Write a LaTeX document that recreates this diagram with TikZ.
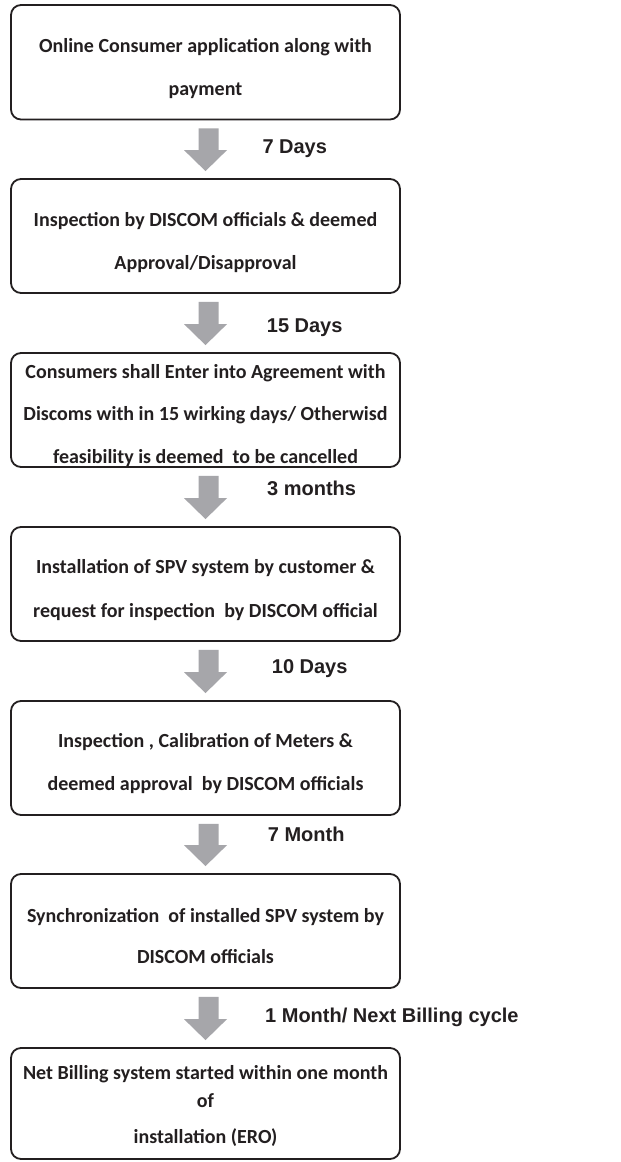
\documentclass[tikz,border=0pt]{standalone}
\usepackage{fontspec}
\newfontfamily\boxfont{Carlito}
\newfontfamily\labfont{Liberation Sans}
\usetikzlibrary{calc}
\definecolor{ink}{RGB}{35,31,32}
\definecolor{arrowgray}{RGB}{166,166,170}
\tikzset{
  stepbox/.style={draw=ink, line width=1.8pt, rounded corners=10pt, fill=white,
    minimum width=389pt, minimum height=#1, inner sep=0pt},
  boxline/.style={anchor=base, inner sep=0pt, text=ink,
    font=\boxfont\bfseries\fontsize{20}{24}\selectfont},
  timelabel/.style={anchor=base west, inner sep=0pt, text=ink,
    font=\labfont\bfseries\fontsize{20}{24}\selectfont},
  arrowfill/.style={fill=arrowgray}
}
\newcommand\blockarrow[2]{%
  \fill[arrowfill] let \p1=(#1.south), \p2=(#2.north) in
    (\x1-7pt,\y1-8pt) -- (\x1+13pt,\y1-8pt) -- (\x1+13pt,\y2+28pt)
    -- (\x1+21.5pt,\y2+28pt) -- (\x1,\y2+7pt) -- (\x1-21.5pt,\y2+28pt)
    -- (\x1-7pt,\y2+28pt) -- cycle;}
\begin{document}
\begin{tikzpicture}[x=1pt,y=1pt]
\useasboundingbox[fill=white] (0,0) rectangle (621,-1162);

% boxes
\node[stepbox=114.5pt] (b1) at (205.5,-62.25) {};
\node[stepbox=114pt] (b2) at (205.5,-236) {};
\node[stepbox=114pt] (b3) at (205.5,-410) {};
\node[stepbox=114pt] (b4) at (205.5,-584) {};
\node[stepbox=114pt] (b5) at (205.5,-758) {};
\node[stepbox=114pt] (b6) at (205.5,-931) {};
\node[stepbox=111pt] (b7) at (205.5,-1103.5) {};

% box texts
\node[boxline] (t1a) at (205.5,-52) {Online Consumer application along with};
\node[boxline] (t1b) at (205.5,-95) {payment};
\node[boxline] (t2a) at (205.5,-226.7) {Inspection by DISCOM officials \& deemed};
\node[boxline] (t2b) at (205.5,-269) {Approval/Disapproval};
\node[boxline] (t3a) at (205.5,-378) {Consumers shall Enter into Agreement with};
\node[boxline] (t3b) at (205.5,-420.7) {Discoms with in 15 wirking days/ Otherwisd};
\node[boxline] (t3c) at (205.5,-463) {feasibility is deemed\ \ to be cancelled};
\node[boxline] (t4a) at (205.5,-573) {Installation of SPV system by customer \&};
\node[boxline] (t4b) at (205.5,-617) {request for inspection\ \ by DISCOM official};
\node[boxline] (t5a) at (205.5,-747) {Inspection , Calibration of Meters \&};
\node[boxline] (t5b) at (205.5,-790) {deemed approval\ \ by DISCOM officials};
\node[boxline] (t6a) at (205.5,-922) {Synchronization\ \ of installed SPV system by};
\node[boxline] (t6b) at (205.5,-963) {DISCOM officials};
\node[boxline] (t7a) at (205.5,-1079) {Net Billing system started within one month};
\node[boxline] (t7b) at (205.5,-1107) {of};
\node[boxline] (t7c) at (205.5,-1143) {installation (ERO)};

% block arrows
\blockarrow{b1}{b2}
\blockarrow{b2}{b3}
\blockarrow{b3}{b4}
\blockarrow{b4}{b5}
\blockarrow{b5}{b6}
\blockarrow{b6}{b7}

% time labels
\node[timelabel] (l1) at (262.3,-153) {7 Days};
\node[timelabel] (l2) at (266.7,-332.7) {15 Days};
\node[timelabel] (l3) at (267,-495) {3 months};
\node[timelabel] (l4) at (271.7,-673.3) {10 Days};
\node[timelabel] (l5) at (267.7,-841.7) {7 Month};
\node[timelabel] (l6) at (265,-1022.7) {1 Month/ Next Billing cycle};
\end{tikzpicture}
\end{document}
